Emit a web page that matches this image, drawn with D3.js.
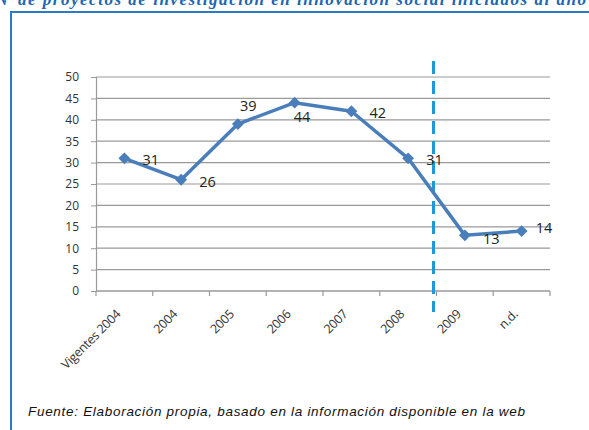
<!DOCTYPE html>
<html>
<head>
<meta charset="utf-8">
<script src="https://cdn.jsdelivr.net/npm/d3@7"></script>
<style>
  body { margin: 0; background: #fff; }
  svg { display: block; }
</style>
</head>
<body>
<div id="chart"></div>
<script>
// data
var categories = ["Vigentes 2004", "2004", "2005", "2006", "2007", "2008", "2009", "n.d."];
var values = [31, 26, 39, 44, 42, 31, 13, 14];
var yTicks = [0, 5, 10, 15, 20, 25, 30, 35, 40, 45, 50];
// where each data label sits relative to its point
var labelPos = ["right", "right", "above", "below", "right", "right", "rightBelow", "rightUp"];

var width = 589, height = 430;
var lineColor = "#4a7ebb";
var frameColor = "#2a7bc4";
var dashColor = "#1a9ad9";

var svg = d3.select("#chart").append("svg")
    .attr("width", width)
    .attr("height", height);

// title, cut at top of the picture (as in the original)
svg.append("text")
    .attr("x", 13).attr("y", 5)
    .attr("text-anchor", "end")
    .attr("font-family", "Liberation Serif, serif")
    .attr("font-style", "italic").attr("font-weight", "bold")
    .attr("font-size", "17px")
    .attr("fill", "#2066b0")
    .text("Nº");
svg.append("text")
    .attr("x", 18).attr("y", 5)
    .attr("textLength", 568).attr("lengthAdjust", "spacing")
    .attr("font-family", "Liberation Serif, serif")
    .attr("font-style", "italic").attr("font-weight", "bold")
    .attr("font-size", "17px")
    .attr("fill", "#2066b0")
    .text("de proyectos de investigación en innovación social iniciados al año");

// frame
svg.append("rect")
    .attr("x", 11).attr("y", 12)
    .attr("width", 600).attr("height", 440)
    .attr("fill", "none")
    .attr("stroke", frameColor)
    .attr("stroke-width", 2);

var x = d3.scaleBand().domain(categories).range([96, 550]);
var y = d3.scaleLinear().domain([0, 50]).range([291, 77]);

// gridlines
svg.selectAll(".grid")
    .data(yTicks)
    .enter()
    .append("line")
    .attr("x1", 96).attr("x2", 550)
    .attr("y1", function(d){return y(d);})
    .attr("y2", function(d){return y(d);})
    .attr("stroke", "#9a9a9a")
    .attr("stroke-width", 1.2);

// y axis
var yAxis = svg.append("g")
    .attr("transform", "translate(96,0)")
    .call(d3.axisLeft(y).tickValues(yTicks).tickSize(5).tickPadding(12));
yAxis.select(".domain").attr("stroke", "#9a9a9a").attr("stroke-width", 1.2);
yAxis.selectAll(".tick line").attr("stroke", "#9a9a9a");
yAxis.selectAll("text")
    .attr("font-family", "Open Sans, sans-serif")
    .attr("font-size", "12px")
    .attr("fill", "#333");

// x axis, ticks between categories
var xAxis = svg.append("g")
    .attr("transform", "translate(0,291)");
xAxis.append("line")
    .attr("x1", 96).attr("x2", 550)
    .attr("stroke", "#9a9a9a").attr("stroke-width", 1.2);
var edges = categories.map(function(c){return x(c);}).concat([x.range()[1]]);
xAxis.selectAll(".xtick")
    .data(edges)
    .enter()
    .append("line")
    .attr("x1", function(d){return d;}).attr("x2", function(d){return d;})
    .attr("y1", 0).attr("y2", 5)
    .attr("stroke", "#9a9a9a").attr("stroke-width", 1.2);
xAxis.selectAll(".xlabel")
    .data(categories)
    .enter()
    .append("text")
    .attr("transform", function(d){
        return "translate(" + (x(d) + x.bandwidth() / 2 - 3) + ",24) rotate(-45)";
    })
    .attr("text-anchor", "end")
    .attr("font-family", "Open Sans, sans-serif")
    .attr("font-size", "12.5px")
    .attr("letter-spacing", "-0.3px")
    .attr("fill", "#333")
    .text(function(d){return d;});

// dashed divider between 2008 and 2009
svg.append("line")
    .attr("x1", x("2009") - 3).attr("x2", x("2009") - 3)
    .attr("y1", 61).attr("y2", 312)
    .attr("stroke", dashColor)
    .attr("stroke-width", 3)
    .attr("stroke-dasharray", "13,7");

// series line
var pts = categories.map(function(c, i){
    return {cat: c, v: values[i], pos: labelPos[i]};
});
var line = d3.line()
    .x(function(d){return x(d.cat) + x.bandwidth() / 2;})
    .y(function(d){return y(d.v);});
svg.append("path")
    .datum(pts)
    .attr("d", line)
    .attr("fill", "none")
    .attr("stroke", lineColor)
    .attr("stroke-width", 3.5)
    .attr("stroke-linejoin", "round");

svg.selectAll(".marker")
    .data(pts)
    .enter()
    .append("path")
    .attr("d", d3.symbol().type(d3.symbolDiamond2).size(90))
    .attr("transform", function(d){
        return "translate(" + (x(d.cat) + x.bandwidth() / 2) + "," + y(d.v) + ")";
    })
    .attr("fill", lineColor);

// data labels
var offs = {
    right: [18, 7],
    rightUp: [14, 2],
    above: [2, -13],
    below: [-1, 19],
    rightBelow: [18, 9]
};
svg.selectAll(".dlabel")
    .data(pts)
    .enter()
    .append("text")
    .attr("x", function(d){return x(d.cat) + x.bandwidth() / 2 + offs[d.pos][0];})
    .attr("y", function(d){return y(d.v) + offs[d.pos][1];})
    .attr("font-family", "Open Sans, sans-serif")
    .attr("font-size", "14.5px")
    .attr("fill", "#222")
    .text(function(d){return d.v;});

// source note
svg.append("text")
    .attr("x", 28).attr("y", 416)
    .attr("textLength", 497).attr("lengthAdjust", "spacing")
    .attr("font-family", "Liberation Sans, Arial, sans-serif")
    .attr("font-style", "italic")
    .attr("font-size", "13.5px")
    .attr("fill", "#111")
    .text("Fuente: Elaboración propia, basado en la información disponible en la web");
</script>
</body>
</html>
